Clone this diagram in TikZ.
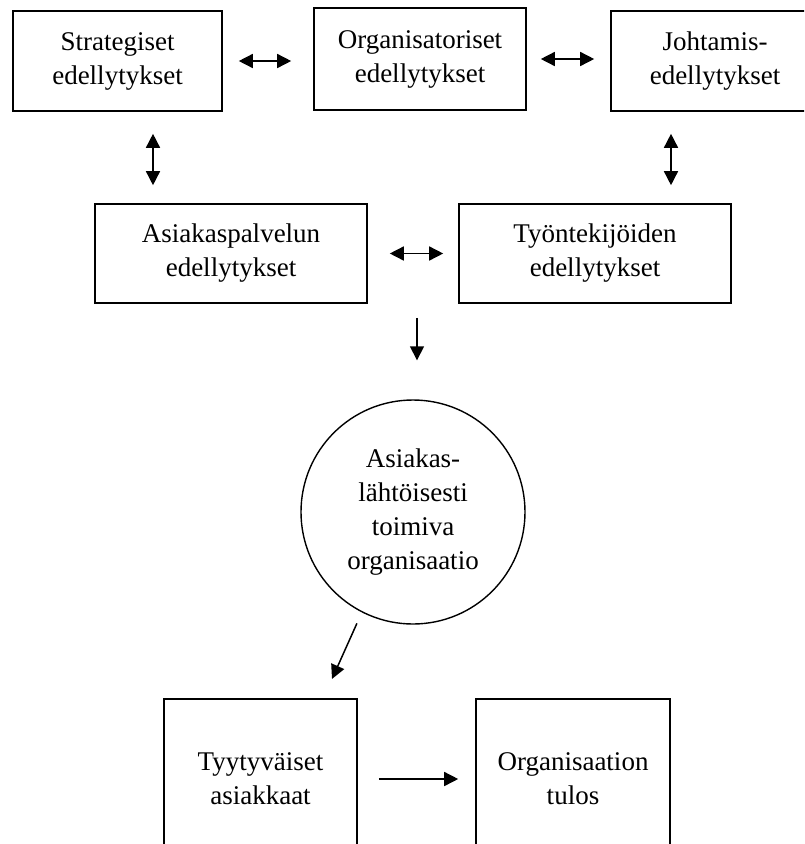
\documentclass[tikz,border=0pt]{standalone}
\usepackage{fontspec}
\setmainfont{Liberation Serif}
\usepackage{tikz}
\usetikzlibrary{positioning, calc, arrows.meta}

\begin{document}
\begin{tikzpicture}[
        x=1pt, y=-1pt,
        every node/.style={font=\fontsize{27}{34}\selectfont},
        box/.style={rectangle, draw=black, line width=1.6pt, align=center, inner sep=0pt},
        roundbox/.style={circle, draw=black, line width=1.4pt, align=center, inner sep=0pt, minimum size=224pt},
        arrow/.style={-{Triangle[length=14pt,width=14pt]}, line width=1.5pt},
        biarrow/.style={{Triangle[length=14pt,width=14pt]}-{Triangle[length=14pt,width=14pt]}, line width=1.5pt}
    ]
        \clip (0,0) rectangle (804,844);

        % Nodes
        \node[box, minimum width=209pt, minimum height=100pt] (strat) at (117.5,61) {Strategiset\\edellytykset};
        \node[box, minimum width=212pt, minimum height=102pt] (orgs) at (420,59) {Organisatoriset\\edellytykset};
        \node[box, minimum width=208pt, minimum height=100pt] (joht) at (715,61) {Johtamis-\\edellytykset};
        \node[box, minimum width=272pt, minimum height=99pt] (asp) at (231,253.5) {Asiakaspalvelun\\edellytykset};
        \node[box, minimum width=272pt, minimum height=99pt] (tyon) at (595,253.5) {Työntekijöiden\\edellytykset};
        \node[roundbox] (circ) at (413,512) {Asiakas-\\lähtöisesti\\toimiva\\organisaatio};
        \node[box, minimum width=193pt, minimum height=160pt] (tyy) at (260.5,779) {Tyytyväiset\\asiakkaat};
        \node[box, minimum width=194pt, minimum height=160pt] (tulos) at (573,779) {Organisaation\\tulos};

        \coordinate (lx) at (153,0);
        \coordinate (rx) at (671,0);
        \coordinate (dx) at (417,0);
        \coordinate (hit) at (323,699);

        % Connections
        \draw[biarrow, shorten <=16pt, shorten >=22pt] (strat.east) -- (strat.east -| orgs.west);
        \draw[biarrow, shorten <=14pt, shorten >=16pt] (orgs.east) -- (orgs.east -| joht.west);
        \draw[biarrow, shorten <=22pt, shorten >=18pt] (strat.south -| lx) -- (asp.north -| lx);
        \draw[biarrow, shorten <=22pt, shorten >=18pt] (joht.south -| rx) -- (tyon.north -| rx);
        \draw[biarrow, shorten <=22pt, shorten >=15pt] (asp.east) -- (tyon.west);
        \draw[arrow, shorten <=14pt, shorten >=39pt] (asp.south -| dx) -- (circ.north -| dx);
        \draw[arrow, shorten <=12pt, shorten >=22pt] (circ.243) -- (hit);
        \draw[arrow, shorten <=21pt, shorten >=17pt] (tyy.east) -- (tulos.west);

    \end{tikzpicture}
\end{document}
